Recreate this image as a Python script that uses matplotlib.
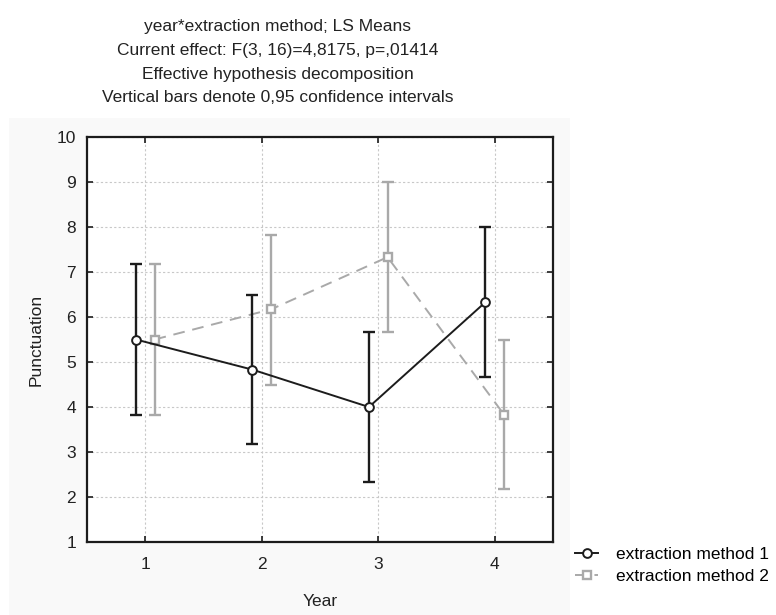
import matplotlib
matplotlib.use("Agg")
import matplotlib.pyplot as plt
from matplotlib.patches import Rectangle
import numpy as np

plt.rcParams['font.family'] = ['Liberation Sans', 'DejaVu Sans']

years = [1, 2, 3, 4]
year_labels = ["1", "2", "3", "4"]
m1_mean = [5.50, 4.83, 4.00, 6.33]
m1_low = [3.83, 3.17, 2.33, 4.67]
m1_high = [7.17, 6.50, 5.67, 8.00]
m2_mean = [5.50, 6.17, 7.33, 3.83]
m2_low = [3.83, 4.50, 5.67, 2.17]
m2_high = [7.17, 7.83, 9.00, 5.50]
series_names = ["extraction method 1", "extraction method 2"]
title_lines = [
    "year*extraction method; LS Means",
    "Current effect: F(3, 16)=4,8175, p=,01414",
    "Effective hypothesis decomposition",
    "Vertical bars denote 0,95 confidence intervals",
]

W, H = 776, 615
fig = plt.figure(figsize=(W / 100, H / 100), dpi=100)
fig.patch.set_facecolor("white")
bg = Rectangle((9 / W, 0), (570 - 9) / W, 1 - 118 / H,
               transform=fig.transFigure, facecolor="#f9f9f9",
               edgecolor="none", zorder=-10)
fig.add_artist(bg)

ax = fig.add_axes([87 / W, 1 - 542 / H, (553 - 87) / W, (542 - 137) / H])
ax.set_zorder(1)
ax.set_facecolor("white")

black = "#1c1c1c"
gray = "#a9a9a9"
off = 0.08
x = np.array(years, dtype=float)

m1 = np.array(m1_mean); m2 = np.array(m2_mean)
e1 = [m1 - np.array(m1_low), np.array(m1_high) - m1]
e2 = [m2 - np.array(m2_low), np.array(m2_high) - m2]

ax.errorbar(x + off, m2, yerr=e2, fmt="none", ecolor=gray, elinewidth=1.7,
            capsize=4.5, capthick=1.7, zorder=3)
ax.plot(x + off, m2, color=gray, lw=1.4, ls=(0, (6, 4)), marker="s",
        markersize=6, markerfacecolor="white", markeredgecolor=gray,
        markeredgewidth=1.7, zorder=4, label=series_names[1])
ax.errorbar(x - off, m1, yerr=e1, fmt="none", ecolor=black, elinewidth=1.7,
            capsize=4.5, capthick=1.7, zorder=5)
ax.plot(x - off, m1, color=black, lw=1.4, marker="o", markersize=6.3,
        markerfacecolor="white", markeredgecolor=black, markeredgewidth=1.4,
        zorder=6, label=series_names[0])

ax.set_xlim(0.5, 4.5)
ax.set_ylim(1, 10)
ax.set_xticks(years)
ax.set_xticklabels(year_labels)
ax.set_yticks(range(1, 11))
ax.grid(True, color="#c8c8c8", ls=(0, (2, 2)), lw=0.8)
ax.set_axisbelow(True)
ax.tick_params(direction="in", length=4, width=1.2, top=True, right=True,
               labelsize=12.5, colors=black, labelcolor="#222222", pad=8)
ax.tick_params(axis="x", pad=11)
for s in ax.spines.values():
    s.set_linewidth(1.6)
    s.set_color(black)

ax.set_xlabel("Year", fontsize=12.5, color="#222222", labelpad=16)
ax.set_ylabel("Punctuation", fontsize=12.5, color="#222222", labelpad=9)

ys = [27, 51, 74, 97]
for t, yy in zip(title_lines, ys):
    fig.text(278 / W, 1 - yy / H, t, ha="center", va="center", fontsize=12.5,
             color="#222222")

h, l = ax.get_legend_handles_labels()
fig.legend(h[::-1], l[::-1], loc="upper left", bbox_to_anchor=(575 / W, 1 - 547 / H),
           frameon=False, fontsize=12.5, handlelength=1.35, handletextpad=1.0,
           labelspacing=0.4, borderaxespad=0, borderpad=0)

fig.savefig("out.png", dpi=100)
